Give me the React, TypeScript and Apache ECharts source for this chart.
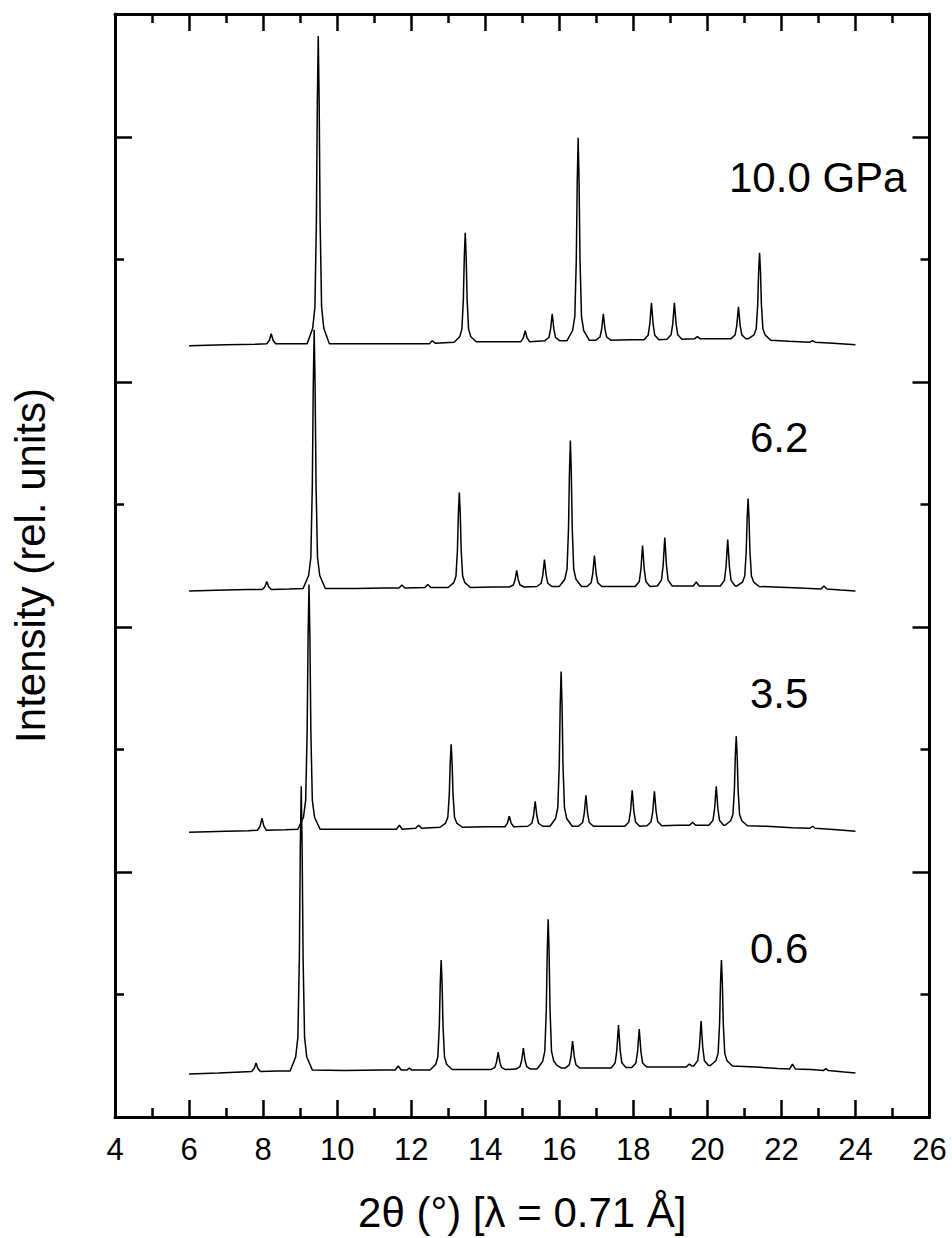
import React, { useEffect, useRef } from "react";
import * as echarts from "echarts";

// 2θ axis ticks (degrees)
const X_MIN = 4;
const X_MAX = 26;
const X_STEP = 2;

// Intensity axis (relative units, no labels)
const Y_MIN = -28;
const Y_MAX = 1076;
const Y_MAJOR_TICKS = [217.1, 462.4, 707.7, 953];
const Y_MINOR_TICKS = [94.7, 340, 585.4, 830.7];

const PRESSURE_LABELS = ["0.6", "3.5", "6.2", "10.0 GPa"];

// Diffraction patterns, [2θ (°), intensity (rel. units, offset)]
const p06: [number, number][] = [
  [6.0, 15], [6.8, 16], [7.4, 17],
  [7.69, 17.5], [7.76, 20.5], [7.81, 26], [7.86, 20.5], [7.93, 17.5],
  [8.4, 18],
  [8.73, 18], [8.88, 32], [8.94, 52], [8.98, 132], [9.005, 240], [9.03, 303], [9.055, 240], [9.08, 132], [9.12, 52], [9.18, 32], [9.33, 19],
  [10.2, 18.5], [11.2, 19],
  [11.57, 19], [11.65, 23], [11.73, 19],
  [11.88, 19], [11.95, 21], [12.02, 19],
  [12.51, 19], [12.66, 24.5], [12.72, 32], [12.76, 63], [12.785, 105], [12.81, 129], [12.835, 105], [12.86, 63], [12.9, 32], [12.96, 24.5], [13.11, 19.5],
  [13.8, 19.5],
  [14.15, 19.5], [14.26, 21.6], [14.305, 26.9], [14.35, 37], [14.395, 26.9], [14.44, 21.6], [14.55, 19.5],
  [14.83, 20], [14.94, 22.5], [14.985, 28.8], [15.03, 41], [15.075, 28.8], [15.12, 22.5], [15.23, 20],
  [15.4, 20], [15.55, 27.5], [15.61, 38], [15.65, 80], [15.675, 137], [15.7, 170], [15.725, 137], [15.75, 80], [15.79, 38], [15.85, 28], [15.93, 24], [16.06, 21],
  [16.16, 21], [16.27, 24.2], [16.315, 32.3], [16.36, 48], [16.405, 32.3], [16.45, 24.2], [16.56, 21],
  [17.0, 21],
  [17.4, 21], [17.51, 26.2], [17.555, 39], [17.6, 64], [17.645, 39], [17.69, 26.2], [17.8, 21.5],
  [17.96, 21.5], [18.07, 26.1], [18.115, 37.7], [18.16, 60], [18.205, 37.7], [18.25, 26.1], [18.36, 22],
  [19.0, 22],
  [19.43, 22], [19.51, 25], [19.59, 23],
  [19.63, 23], [19.74, 28.4], [19.785, 41.9], [19.83, 68], [19.875, 41.9], [19.92, 28.4], [20.03, 23.5],
  [20.08, 23.5], [20.23, 28.3], [20.29, 35.7], [20.33, 65.4], [20.355, 105.7], [20.38, 129], [20.405, 105.7], [20.43, 65.4], [20.47, 35.7], [20.53, 28.3], [20.68, 23],
  [21.3, 22], [21.9, 20.5],
  [22.22, 20], [22.3, 25], [22.38, 20],
  [22.8, 19.5],
  [23.13, 18.5], [23.2, 20.5], [23.27, 18.5],
  [23.7, 17], [24.0, 16],
];

const p35: [number, number][] = [
  [6.0, 257], [7.0, 258], [7.6, 258.5],
  [7.85, 259], [7.92, 263.2], [7.97, 271], [8.02, 263.2], [8.09, 259],
  [8.6, 259.5],
  [8.94, 260], [9.09, 272], [9.15, 289], [9.19, 358], [9.215, 451], [9.24, 505], [9.265, 451], [9.29, 358], [9.33, 289], [9.39, 272], [9.54, 260],
  [10.5, 260], [11.2, 260],
  [11.6, 260], [11.68, 264], [11.76, 260],
  [12.12, 261], [12.2, 264], [12.28, 261],
  [12.78, 262], [12.93, 266.2], [12.99, 272], [13.03, 295.2], [13.055, 326.7], [13.08, 345], [13.105, 326.7], [13.13, 295.2], [13.17, 272], [13.23, 266.2], [13.38, 262],
  [14.0, 262.5],
  [14.53, 262.5], [14.6, 266.2], [14.65, 273], [14.7, 266.2], [14.77, 262.5],
  [15.15, 263], [15.26, 266], [15.305, 273.5], [15.35, 288], [15.395, 273.5], [15.44, 266], [15.55, 263],
  [15.75, 263], [15.9, 270.8], [15.96, 281.6], [16.0, 325], [16.025, 384], [16.05, 418], [16.075, 384], [16.1, 325], [16.14, 281.6], [16.2, 270.8], [16.35, 263],
  [16.52, 263], [16.63, 266.7], [16.675, 276], [16.72, 294], [16.765, 276], [16.81, 266.7], [16.92, 263],
  [17.4, 263],
  [17.77, 263], [17.88, 267.3], [17.925, 278.1], [17.97, 299], [18.015, 278.1], [18.06, 267.3], [18.17, 263],
  [18.37, 263.5], [18.48, 267.6], [18.525, 278], [18.57, 298], [18.615, 278], [18.66, 267.6], [18.77, 263.5],
  [19.2, 264],
  [19.52, 264], [19.6, 267], [19.68, 264],
  [20.04, 264], [20.15, 268.7], [20.195, 280.4], [20.24, 303], [20.285, 280.4], [20.33, 268.7], [20.44, 264],
  [20.48, 264], [20.63, 268.5], [20.69, 274.7], [20.73, 299.6], [20.755, 333.4], [20.78, 353], [20.805, 333.4], [20.83, 299.6], [20.87, 274.7], [20.93, 268.5], [21.08, 263.5],
  [21.6, 263], [22.3, 261.5],
  [22.77, 261], [22.84, 263], [22.91, 261],
  [23.5, 259.5], [24.0, 258],
];

const p62: [number, number][] = [
  [6.0, 498.5], [7.0, 499.5], [7.6, 500],
  [7.98, 500], [8.05, 502.8], [8.1, 508], [8.15, 502.8], [8.22, 500],
  [8.7, 500.5],
  [9.08, 501], [9.23, 514], [9.29, 532], [9.33, 604.6], [9.355, 703], [9.38, 760], [9.405, 703], [9.43, 604.6], [9.47, 532], [9.53, 514], [9.68, 501],
  [10.5, 501], [11.3, 501.5],
  [11.67, 501.5], [11.75, 504.5], [11.83, 501.5],
  [12.37, 502], [12.45, 505], [12.53, 502],
  [13.0, 502], [13.15, 506.8], [13.21, 513.4], [13.25, 540], [13.275, 576.1], [13.3, 597], [13.325, 576.1], [13.35, 540], [13.39, 513.4], [13.45, 506.8], [13.6, 502],
  [14.2, 502.5],
  [14.65, 502.5], [14.76, 504.5], [14.805, 509.4], [14.85, 519], [14.895, 509.4], [14.94, 504.5], [15.05, 502.5],
  [15.4, 503], [15.51, 506.2], [15.555, 514.3], [15.6, 530], [15.645, 514.3], [15.69, 506.2], [15.8, 503],
  [16.0, 503], [16.15, 510.3], [16.21, 520.5], [16.25, 561.4], [16.275, 616.9], [16.3, 649], [16.325, 616.9], [16.35, 561.4], [16.39, 520.5], [16.45, 510.3], [16.6, 503],
  [16.75, 503], [16.86, 506.7], [16.905, 516], [16.95, 534], [16.995, 516], [17.04, 506.7], [17.15, 503],
  [17.6, 503],
  [18.05, 503], [18.16, 507.9], [18.205, 520.2], [18.25, 544], [18.295, 520.2], [18.34, 507.9], [18.45, 503],
  [18.65, 503.5], [18.76, 509.3], [18.805, 523.9], [18.85, 552], [18.895, 523.9], [18.94, 509.3], [19.05, 503.5],
  [19.62, 503.5], [19.7, 507.5], [19.78, 503.5],
  [20.35, 503.5], [20.46, 509.1], [20.505, 523], [20.55, 550], [20.595, 523], [20.64, 509.1], [20.75, 503.5],
  [20.8, 503.5], [20.95, 507.4], [21.01, 513.6], [21.05, 538.2], [21.075, 571.6], [21.1, 591], [21.125, 571.6], [21.15, 538.2], [21.19, 513.6], [21.25, 507.4], [21.4, 503],
  [21.8, 502.5], [22.5, 501.5],
  [23.07, 500.5], [23.15, 503.5], [23.23, 500.5],
  [23.6, 499.5], [24.0, 498.5],
];

const p100: [number, number][] = [
  [6.0, 744], [7.0, 745], [7.8, 745.5],
  [8.1, 746], [8.17, 749.5], [8.22, 756], [8.27, 749.5], [8.34, 746],
  [8.9, 746],
  [9.19, 746], [9.34, 761.4], [9.4, 783], [9.44, 869.2], [9.465, 986.2], [9.49, 1054], [9.515, 986.2], [9.54, 869.2], [9.58, 783], [9.64, 761.4], [9.79, 746],
  [10.8, 746], [11.8, 746],
  [12.49, 746], [12.57, 749], [12.65, 746.5],
  [13.16, 747.5], [13.31, 753], [13.37, 760.6], [13.41, 791.3], [13.435, 832.9], [13.46, 857], [13.485, 832.9], [13.51, 791.3], [13.55, 760.6], [13.61, 753], [13.76, 748],
  [14.5, 748],
  [14.96, 748], [15.03, 751.9], [15.08, 759], [15.13, 751.9], [15.2, 748],
  [15.61, 749], [15.72, 752.2], [15.765, 760.3], [15.81, 776], [15.855, 760.3], [15.9, 752.2], [16.01, 749],
  [16.21, 749], [16.36, 759.2], [16.42, 773.4], [16.46, 830.2], [16.485, 907.3], [16.51, 952], [16.535, 907.3], [16.56, 830.2], [16.6, 773.4], [16.66, 759.2], [16.81, 749.5],
  [16.99, 749.5], [17.1, 752.7], [17.145, 760.6], [17.19, 776], [17.235, 760.6], [17.28, 752.7], [17.39, 749.5],
  [17.9, 750],
  [18.29, 750], [18.4, 754.4], [18.445, 765.5], [18.49, 787], [18.535, 765.5], [18.58, 754.4], [18.69, 750],
  [18.91, 750.5], [19.02, 754.9], [19.065, 765.8], [19.11, 787], [19.155, 765.8], [19.2, 754.9], [19.31, 750.5],
  [19.66, 751], [19.73, 753], [19.8, 751],
  [20.3, 751],
  [20.64, 751], [20.75, 754.8], [20.795, 764.4], [20.84, 783], [20.885, 764.4], [20.93, 754.8], [21.04, 751],
  [21.11, 751], [21.26, 754.8], [21.32, 760.9], [21.36, 785.1], [21.385, 818], [21.41, 837], [21.435, 818], [21.46, 785.1], [21.5, 760.9], [21.56, 754.8], [21.71, 749.5],
  [22.2, 748.5],
  [22.77, 747.5], [22.84, 749], [22.91, 747.5],
  [23.4, 746.5], [24.0, 745],
];

const PATTERNS = [p06, p35, p62, p100];

const FONT = '"Liberation Sans", Arial, Helvetica, sans-serif';

export default function App() {
  const ref = useRef<HTMLDivElement>(null);

  useEffect(() => {
    if (!ref.current) return;
    const chart = echarts.init(ref.current, undefined, { renderer: "svg" });

    const axisLine = { show: true, onZero: false, lineStyle: { color: "#000", width: 3 } };
    const tickStyle = { color: "#000", width: 2.5 };

    const xBase = {
      type: "value",
      min: X_MIN,
      max: X_MAX,
      interval: X_STEP,
      axisLine,
      axisTick: { show: true, inside: true, length: 17, lineStyle: tickStyle },
      minorTick: { show: true, splitNumber: 2, length: 9, lineStyle: tickStyle },
      splitLine: { show: false },
      minorSplitLine: { show: false },
    };

    const yBase = {
      type: "value",
      min: Y_MIN,
      max: Y_MAX,
      splitLine: { show: false },
      axisLabel: { show: false },
    };

    const labelPos = [
      { x: 750, y: 948 },
      { x: 750, y: 693 },
      { x: 750, y: 437 },
      { x: 729, y: 177 },
    ];

    chart.setOption({
      animation: false,
      textStyle: { fontFamily: FONT },
      grid: { left: 115, right: 22.5, top: 14, bottom: 120, containLabel: false },
      xAxis: [
        {
          ...xBase,
          position: "bottom",
          axisLabel: { show: true, color: "#000", fontSize: 31, fontFamily: FONT, margin: 17 },
          name: "2θ (°) [λ = 0.71 Å]",
          nameLocation: "middle",
          nameGap: 74,
          nameTextStyle: { color: "#000", fontSize: 42, fontFamily: FONT },
        },
        {
          ...xBase,
          position: "top",
          axisLabel: { show: false },
        },
      ],
      yAxis: [
        {
          ...yBase,
          position: "left",
          axisLine,
          axisTick: { show: true, inside: true, length: 17, customValues: Y_MAJOR_TICKS, lineStyle: tickStyle },
          name: "Intensity (rel. units)",
          nameLocation: "middle",
          nameGap: 64,
          nameTextStyle: { color: "#000", fontSize: 42, fontFamily: FONT },
        },
        {
          ...yBase,
          position: "left",
          axisLine: { show: false, onZero: false },
          axisTick: { show: true, inside: true, length: 9, customValues: Y_MINOR_TICKS, lineStyle: tickStyle },
        },
        {
          ...yBase,
          position: "right",
          axisLine,
          axisTick: { show: true, inside: true, length: 17, customValues: Y_MAJOR_TICKS, lineStyle: tickStyle },
        },
        {
          ...yBase,
          position: "right",
          axisLine: { show: false, onZero: false },
          axisTick: { show: true, inside: true, length: 9, customValues: Y_MINOR_TICKS, lineStyle: tickStyle },
        },
      ],
      series: PATTERNS.map((data, i) => ({
        type: "line",
        name: PRESSURE_LABELS[i],
        xAxisIndex: 0,
        yAxisIndex: 0,
        data,
        symbol: "none",
        smooth: false,
        lineStyle: { color: "#000", width: 1.5 },
        silent: true,
      })),
      graphic: PRESSURE_LABELS.map((t, i) => ({
        type: "text",
        x: labelPos[i].x,
        y: labelPos[i].y,
        style: {
          text: t,
          fill: "#000",
          fontSize: 42,
          fontFamily: FONT,
          align: "left",
          verticalAlign: "middle",
        },
      })),
    });

    return () => chart.dispose();
  }, []);

  return (
    <div
      ref={ref}
      style={{ position: "fixed", left: 0, top: 0, width: 952, height: 1238, background: "#fff" }}
    />
  );
}
